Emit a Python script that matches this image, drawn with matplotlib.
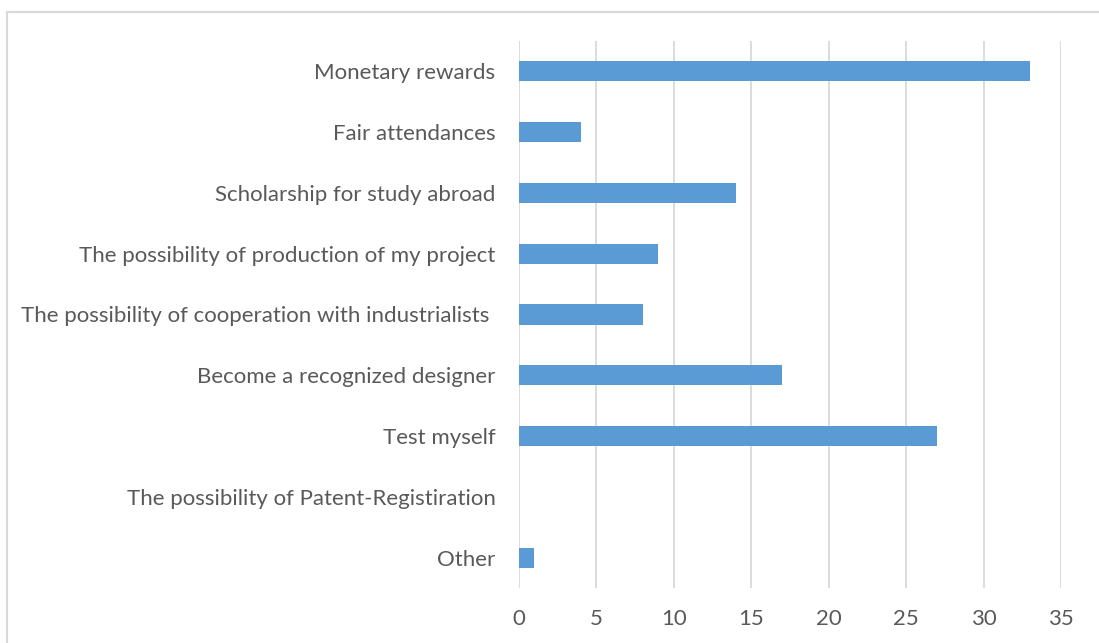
import matplotlib
matplotlib.use("Agg")
import matplotlib.pyplot as plt
from matplotlib.patches import Rectangle

categories = [
    "Monetary rewards",
    "Fair attendances",
    "Scholarship for study abroad",
    "The possibility of production of my project",
    "The possibility of cooperation with industrialists ",
    "Become a recognized designer",
    "Test myself",
    "The possibility of Patent-Registiration",
    "Other",
]
counts = [33, 4, 14, 9, 8, 17, 27, 0, 1]
xticks = [0, 5, 10, 15, 20, 25, 30, 35]

plt.rcParams['font.family'] = ['Lato', 'DejaVu Sans']
text_color = '#595959'

fig = plt.figure(figsize=(10.99, 6.43), dpi=100)
ax = fig.add_axes([519 / 1099, 55 / 643, 542 / 1099, 547 / 643])

ypos = list(range(len(categories)))[::-1]
ax.barh(ypos, counts, height=0.33, color='#5B9BD5', zorder=3)

ax.set_xlim(0, 35)
ax.set_ylim(-0.5, len(categories) - 0.5)
ax.set_xticks(xticks)
ax.set_yticks(ypos)
ax.set_yticklabels(categories)
ax.grid(axis='x', color='#D9D9D9', linewidth=1.3, zorder=0)
for s in ax.spines.values():
    s.set_visible(False)
ax.tick_params(axis='both', length=0, labelsize=16, colors=text_color)
ax.tick_params(axis='y', pad=17)
ax.tick_params(axis='x', pad=15)

# chart frame
fig.patches.append(Rectangle((7 / 1099, -0.1), 1.2, (643 - 12) / 643 + 0.1,
                             transform=fig.transFigure, fill=False,
                             edgecolor='#D9D9D9', linewidth=1.5))

fig.savefig("out.png", dpi=100)
